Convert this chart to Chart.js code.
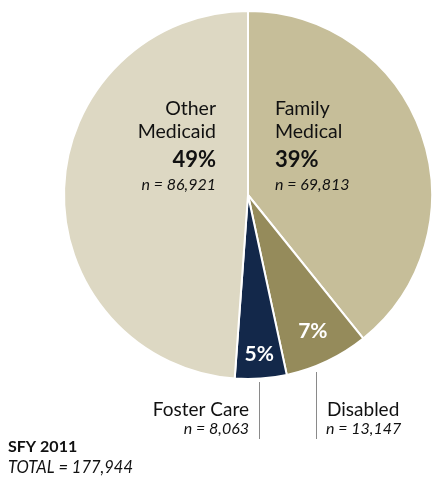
<!DOCTYPE html>
<html>
<head>
<meta charset="utf-8">
<script src="https://cdn.jsdelivr.net/npm/chart.js@4"></script>
<style>
  body { margin: 0; background: #fff; }
</style>
</head>
<body>
<canvas id="pie-chart" width="433" height="481"></canvas>
<script>
const categories = ["Family Medical", "Disabled", "Foster Care", "Other Medicaid"];
const counts = [69813, 13147, 8063, 86921];
const percentLabels = ["39%", "7%", "5%", "49%"];
const countLabels = ["n = 69,813", "n = 13,147", "n = 8,063", "n = 86,921"];
const sliceColors = ["#c6be99", "#958b5b", "#13284a", "#ddd8c3"];
const yearLabel = "SFY 2011";
const totalLabel = "TOTAL = 177,944";

const FONT = "Lato, 'Open Sans', sans-serif";

// Text and leader lines drawn on top of the pie
const labelPlugin = {
  id: "pieLabels",
  afterDatasetsDraw(chart) {
    const ctx = chart.ctx;
    const arcs = chart.getDatasetMeta(0).data;
    const cx = arcs[0].x;
    const cy = arcs[0].y;
    const r = arcs[0].outerRadius;

    ctx.save();
    ctx.fillStyle = "#111";
    ctx.textBaseline = "alphabetic";

    // big slices: text inside
    const drawBlock = (lines, x, align) => {
      ctx.textAlign = align;
      ctx.font = "19.5px " + FONT;
      ctx.fillText(lines[0], x, cy - 80);
      ctx.fillText(lines[1], x, cy - 57);
      ctx.font = "bold 22px " + FONT;
      ctx.fillText(lines[2], x, cy - 28);
      ctx.font = "italic 16px " + FONT;
      ctx.fillText(lines[3], x, cy - 5);
    };
    drawBlock(["Other", "Medicaid", percentLabels[3], countLabels[3]], cx - 32, "right");
    drawBlock(["Family", "Medical", percentLabels[0], countLabels[0]], cx + 27, "left");

    // small slices: white percent inside
    const inner = [[1, 0.82], [2, 0.87]];
    inner.forEach(([i, f]) => {
      const a = arcs[i];
      const mid = (a.startAngle + a.endAngle) / 2;
      ctx.fillStyle = "#fff";
      ctx.font = "bold 21px " + FONT;
      ctx.textAlign = "center";
      ctx.textBaseline = "middle";
      ctx.fillText(percentLabels[i], cx + Math.cos(mid) * r * f, cy + Math.sin(mid) * r * f);
    });

    // leader lines
    ctx.strokeStyle = "#8a8a8a";
    ctx.lineWidth = 1;
    ctx.beginPath();
    ctx.moveTo(316.5, cy + 177);
    ctx.lineTo(316.5, cy + 244);
    ctx.moveTo(259.5, cy + 187);
    ctx.lineTo(259.5, cy + 244);
    ctx.stroke();

    ctx.fillStyle = "#111";
    ctx.textBaseline = "alphabetic";
    ctx.textAlign = "right";
    ctx.font = "19px " + FONT;
    ctx.fillText(categories[2], 249, cy + 221);
    ctx.font = "italic 16px " + FONT;
    ctx.fillText(countLabels[2], 249, cy + 239);

    ctx.textAlign = "left";
    ctx.font = "19px " + FONT;
    ctx.fillText(categories[1], 327, cy + 221);
    ctx.font = "italic 16px " + FONT;
    ctx.fillText(countLabels[1], 326, cy + 239);

    ctx.font = "bold 16px " + FONT;
    ctx.fillText(yearLabel, 8, 452);
    ctx.font = "italic 16.5px " + FONT;
    ctx.fillText(totalLabel, 8, 473);
    ctx.restore();
  },
};

const pieChart = new Chart(document.getElementById("pie-chart"), {
  type: "pie",
  data: {
    labels: categories,
    datasets: [
      {
        data: counts,
        backgroundColor: sliceColors,
        borderColor: "#ffffff",
        borderWidth: 2,
      },
    ],
  },
  options: {
    responsive: false,
    animation: false,
    layout: {
      padding: { left: 63, right: 0, top: 10, bottom: 101 },
    },
    plugins: {
      legend: { display: false },
      tooltip: { enabled: false },
    },
  },
  plugins: [labelPlugin],
});
</script>
</body>
</html>
